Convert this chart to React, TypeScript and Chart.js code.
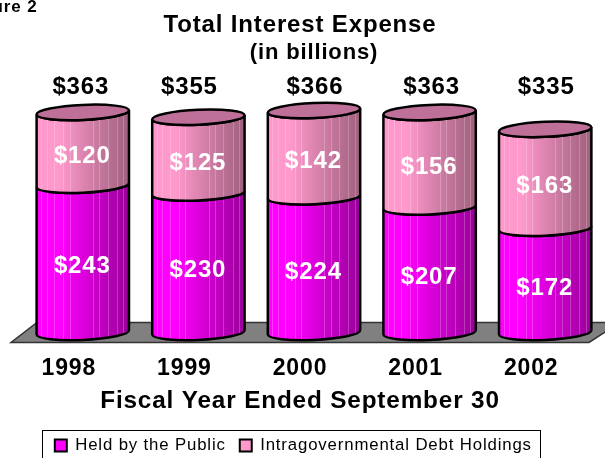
import React, { useEffect, useRef } from "react";
import { Chart, registerables } from "chart.js";

Chart.register(...registerables);

const years = ["1998", "1999", "2000", "2001", "2002"];
const heldByPublic = [243, 230, 224, 207, 172];
const intragovernmental = [120, 125, 142, 156, 163];
const totals = [363, 355, 366, 363, 335];

const FONT = "'Liberation Sans', Arial, sans-serif";
const SPACING = "0.85px";
const TOTAL_DX = [-2, -9, 1, 2, 1];
const STRIPES = [0.05, 0.11, 0.19, 0.29, 0.36, 0.61, 0.68, 0.77, 0.87, 0.94];
const RY = 7.5;
const TILT = -0.045;

function shade(ctx: CanvasRenderingContext2D, x0: number, x1: number, stops: string[]) {
  const g = ctx.createLinearGradient(x0, 0, x1, 0);
  stops.forEach((c, i) => g.addColorStop(i / (stops.length - 1), c));
  return g;
}

function nudge(box: any, method: string, dx: number, dy: number) {
  const orig = box[method];
  box[method] = function (...args: any[]) {
    const ctx = this.ctx;
    ctx.save();
    ctx.translate(dx, dy);
    orig.apply(this, args);
    ctx.restore();
  };
}

const palettes = [
  ["#ff00ff", "#ff00ff", "#dd00dd", "#bb00bb", "#990099"],
  ["#ff99cc", "#ff99cc", "#dd85b0", "#bd7296", "#a0607e"],
];

const cylinderPlugin = {
  id: "cylinders",
  beforeInit(chart: any) {
    chart.ctx.letterSpacing = SPACING;
  },
  afterLayout(chart: any) {
    chart.ctx.letterSpacing = SPACING;
    const subtitle = chart.boxes.find((b: any) => b.options && b.options.text === "(in billions)");
    nudge(chart.titleBlock, "draw", -14, 1);
    if (subtitle) nudge(subtitle, "draw", 0, 0);
    nudge(chart.scales.x, "drawTitle", -14, 7);
    nudge(chart.legend, "draw", -41.5, 6);
  },
  beforeDatasetDraw() {
    return false;
  },
  beforeDatasetsDraw(chart: any) {
    const { ctx } = chart;
    const base = chart.scales.y.getPixelForValue(0);
    ctx.save();
    ctx.beginPath();
    ctx.moveTo(37, base - 10);
    ctx.lineTo(620, base - 10);
    ctx.lineTo(589, base + 10);
    ctx.lineTo(11, base + 10);
    ctx.closePath();
    ctx.fillStyle = "#808080";
    ctx.fill();
    ctx.strokeStyle = "#333333";
    ctx.lineWidth = 1.5;
    ctx.stroke();
    ctx.restore();
  },
  afterDatasetsDraw(chart: any) {
    const { ctx } = chart;
    ctx.save();
    ctx.letterSpacing = SPACING;
    const top = chart.getDatasetMeta(1).data;
    [0, 1].forEach((d) => {
      chart.getDatasetMeta(d).data.forEach((bar: any) => {
        const rx = bar.width / 2;
        const x0 = bar.x - rx;
        const x1 = bar.x + rx;
        ctx.beginPath();
        ctx.ellipse(bar.x, bar.base, rx, RY, TILT, 0, Math.PI, false);
        ctx.ellipse(bar.x, bar.y, rx, RY, TILT, Math.PI, 0, true);
        ctx.closePath();
        ctx.fillStyle = shade(ctx, x0, x1, palettes[d]);
        ctx.fill();
        ctx.save();
        ctx.clip();
        ctx.strokeStyle = "rgba(255,255,255,0.22)";
        ctx.lineWidth = 1;
        STRIPES.forEach((f) => {
          const sx = Math.round(x0 + f * bar.width) + 0.5;
          ctx.beginPath();
          ctx.moveTo(sx, bar.y - RY * 2);
          ctx.lineTo(sx, bar.base + RY * 2);
          ctx.stroke();
        });
        ctx.restore();
        ctx.beginPath();
        ctx.ellipse(bar.x, bar.base, rx, RY, TILT, 0, Math.PI, false);
        ctx.ellipse(bar.x, bar.y, rx, RY, TILT, Math.PI, 0, true);
        ctx.closePath();
        ctx.strokeStyle = "#000000";
        ctx.lineWidth = 2.5;
        ctx.stroke();
      });
    });
    top.forEach((bar: any) => {
      ctx.beginPath();
      ctx.ellipse(bar.x, bar.y, bar.width / 2, RY, TILT, 0, Math.PI * 2);
      ctx.fillStyle = "#bf7098";
      ctx.fill();
      ctx.strokeStyle = "#000000";
      ctx.lineWidth = 2.5;
      ctx.stroke();
    });
    ctx.textAlign = "center";
    ctx.textBaseline = "middle";
    ctx.font = `bold 24px ${FONT}`;
    ctx.fillStyle = "#ffffff";
    [0, 1].forEach((d) => {
      const values = d === 0 ? heldByPublic : intragovernmental;
      chart.getDatasetMeta(d).data.forEach((bar: any, i: number) => {
        ctx.fillText(`$${values[i]}`, bar.x - 0.5, (bar.y + bar.base) / 2 + 8);
      });
    });
    ctx.fillStyle = "#000000";
    top.forEach((bar: any, i: number) => {
      ctx.fillText(`$${totals[i]}`, bar.x + TOTAL_DX[i], 87);
    });
    ctx.font = `bold 17px ${FONT}`;
    ctx.textAlign = "right";
    ctx.textBaseline = "alphabetic";
    ctx.fillText("Figure 2", 37.5, 12);
    ctx.strokeStyle = "#000000";
    ctx.lineWidth = 1;
    ctx.strokeRect(42.5, 430.5, 498, 40);
    ctx.restore();
  },
};

export default function App() {
  const ref = useRef<HTMLCanvasElement>(null);
  useEffect(() => {
    document.body.style.margin = "0";
    const chart = new Chart(ref.current!, {
      type: "bar",
      data: {
        labels: years,
        datasets: [
          { label: "Held by the Public", data: heldByPublic, backgroundColor: "#ff00ff", borderColor: "#000000", borderWidth: 2 },
          { label: "Intragovernmental Debt Holdings", data: intragovernmental, backgroundColor: "#ff99cc", borderColor: "#000000", borderWidth: 2 },
        ],
      },
      options: {
        responsive: false,
        animation: false,
        barPercentage: 0.8,
        categoryPercentage: 1,
        layout: { padding: { left: 25, right: 2, top: 0, bottom: 0 } },
        scales: {
          x: {
            stacked: true,
            grid: { display: false },
            border: { display: false },
            afterFit(scale: any) {
              scale.height -= 16;
            },
            ticks: { color: "#000000", font: { family: FONT, size: 23, weight: "bold" }, labelOffset: -14, padding: 14, maxRotation: 0, autoSkip: false },
            title: { display: true, text: "Fiscal Year Ended September 30", color: "#000000", font: { family: FONT, size: 24.3, weight: "bold" }, padding: { top: 0, bottom: 8 } },
          },
          y: { stacked: true, display: false, min: 0, max: 426 },
        },
        plugins: {
          title: { display: true, text: "Total Interest Expense", color: "#000000", font: { family: FONT, size: 24, weight: "bold" }, padding: { top: 10, bottom: 0 } },
          subtitle: { display: true, text: "(in billions)", color: "#000000", font: { family: FONT, size: 22, weight: "bold" }, padding: { top: 1, bottom: 8 } },
          legend: {
            position: "bottom",
            labels: { color: "#000000", font: { family: FONT, size: 16.8 }, boxWidth: 12, boxHeight: 12, padding: 14 },
          },
          tooltip: { enabled: false },
        },
      } as any,
      plugins: [cylinderPlugin],
    });
    return () => chart.destroy();
  }, []);
  return (
    <div style={{ width: 605, height: 458, overflow: "hidden" }}>
      <canvas ref={ref} width={605} height={458} style={{ display: "block" }} />
    </div>
  );
}
